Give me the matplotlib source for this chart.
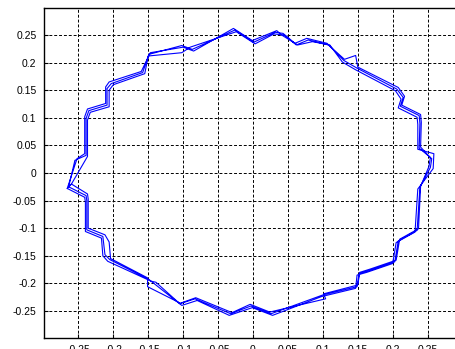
import matplotlib

matplotlib.use("Agg")
import matplotlib.pyplot as plt

# Trayectoria cerrada recorrida tres veces (coordenadas x, y de cada vuelta)
x_vuelta1 = [-0.264, -0.239, -0.238, -0.238, -0.215, -0.212, -0.205, -0.149, -0.105, -0.083,
             -0.032, -0.003, 0.026, 0.100, 0.149, 0.152, 0.166, 0.203, 0.208, 0.235,
             0.239, 0.254, 0.256, 0.238, 0.239, 0.238, 0.211, 0.215, 0.206, 0.149,
             0.130, 0.106, 0.077, 0.060, 0.043, 0.032, 0.001, -0.026, -0.087, -0.102,
             -0.149, -0.158, -0.203, -0.209, -0.209, -0.235, -0.239, -0.239, -0.255, -0.264]
y_vuelta1 = [-0.025, -0.041, -0.050, -0.103, -0.115, -0.148, -0.157, -0.193, -0.237, -0.228,
             -0.255, -0.241, -0.255, -0.221, -0.206, -0.182, -0.177, -0.161, -0.123, -0.104,
             -0.026, 0.010, 0.026, 0.045, 0.090, 0.104, 0.121, 0.137, 0.152, 0.190,
             0.204, 0.235, 0.244, 0.235, 0.253, 0.255, 0.237, 0.259, 0.224, 0.231,
             0.215, 0.182, 0.162, 0.153, 0.123, 0.113, 0.099, 0.032, 0.023, -0.025]

x_vuelta2 = [-0.260, -0.237, -0.236, -0.236, -0.212, -0.206, -0.204, -0.151, -0.151, -0.104,
             -0.082, -0.030, -0.004, 0.024, 0.104, 0.101, 0.150, 0.153, 0.168, 0.205,
             0.210, 0.237, 0.240, 0.252, 0.254, 0.240, 0.241, 0.240, 0.213, 0.217,
             0.208, 0.150, 0.147, 0.131, 0.108, 0.079, 0.062, 0.045, 0.030, 0.003,
             -0.024, -0.090, -0.102, -0.150, -0.155, -0.200, -0.206, -0.206, -0.233, -0.237,
             -0.237, -0.260]
y_vuelta2 = [-0.020, -0.038, -0.047, -0.100, -0.112, -0.125, -0.155, -0.190, -0.206, -0.236,
             -0.226, -0.253, -0.238, -0.252, -0.228, -0.219, -0.203, -0.180, -0.174, -0.158,
             -0.120, -0.101, -0.024, 0.012, 0.028, 0.047, 0.092, 0.106, 0.123, 0.139,
             0.155, 0.192, 0.213, 0.206, 0.232, 0.241, 0.232, 0.250, 0.252, 0.234,
             0.256, 0.228, 0.218, 0.212, 0.180, 0.160, 0.150, 0.120, 0.110, 0.096,
             0.030, -0.020]

x_vuelta3 = [-0.266, -0.241, -0.240, -0.240, -0.217, -0.215, -0.208, -0.146, -0.139, -0.102,
             -0.080, -0.034, -0.001, 0.028, 0.098, 0.147, 0.149, 0.163, 0.200, 0.205,
             0.232, 0.236, 0.258, 0.259, 0.236, 0.236, 0.235, 0.208, 0.212, 0.204,
             0.147, 0.128, 0.110, 0.085, 0.064, 0.041, 0.034, -0.001, -0.028, -0.085,
             -0.100, -0.147, -0.160, -0.206, -0.211, -0.211, -0.237, -0.241, -0.241, -0.252,
             -0.266]
y_vuelta3 = [-0.028, -0.044, -0.053, -0.106, -0.118, -0.150, -0.160, -0.196, -0.198, -0.240,
             -0.231, -0.258, -0.244, -0.258, -0.224, -0.209, -0.185, -0.180, -0.164, -0.126,
             -0.107, -0.029, 0.008, 0.035, 0.043, 0.088, 0.101, 0.118, 0.134, 0.149,
             0.187, 0.201, 0.232, 0.238, 0.232, 0.250, 0.258, 0.240, 0.262, 0.221,
             0.228, 0.218, 0.184, 0.165, 0.156, 0.126, 0.116, 0.102, 0.035, 0.026,
             -0.028]

ticks = [-0.25, -0.2, -0.15, -0.1, -0.05, 0, 0.05, 0.1, 0.15, 0.2, 0.25]

plt.rcParams["font.family"] = ["Liberation Sans", "DejaVu Sans"]

fig = plt.figure(figsize=(4.56, 3.49), dpi=100)
# el eje se sale un poco por la derecha de la figura
ax = fig.add_axes([43.5 / 456, 11 / 349, 419 / 456, 330 / 349])

xs = x_vuelta1 + x_vuelta2 + x_vuelta3
ys = y_vuelta1 + y_vuelta2 + y_vuelta3
ax.plot(xs, ys, color="#0000ff", linewidth=0.8)

ax.set_xlim(-0.3, 0.3)
ax.set_ylim(-0.299, 0.299)
ax.set_xticks(ticks)
ax.set_yticks(ticks)
ax.set_xticklabels([f"{t:g}" for t in ticks])
ax.set_yticklabels([f"{t:g}" for t in ticks])
ax.tick_params(direction="in", length=3, labelsize=7.5, colors="black", pad=5)

ax.grid(True, color="black", linestyle=(0, (3, 2)), linewidth=0.7)
for s in ax.spines.values():
    s.set_linewidth(1.0)

fig.savefig("out.png", dpi=100)
